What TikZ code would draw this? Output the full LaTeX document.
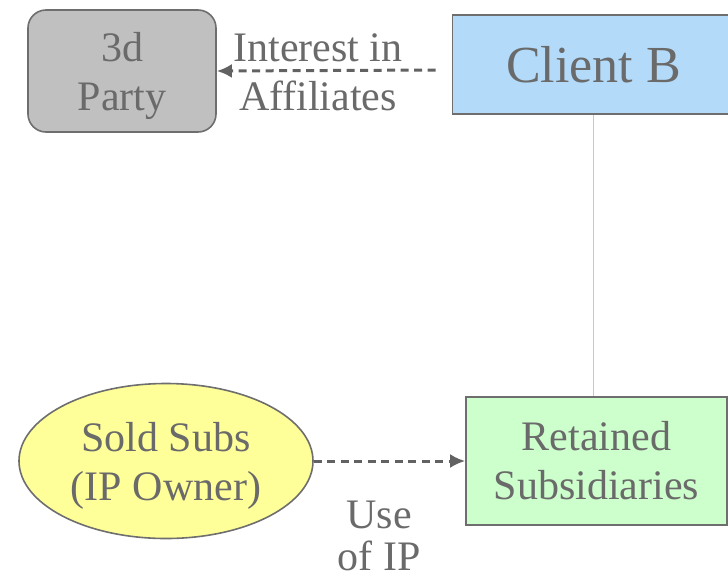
\documentclass[tikz,border=0pt]{standalone}
\usepackage{fontspec}
\setmainfont{Liberation Serif}
\usepackage{tikz}
\usetikzlibrary{positioning, arrows.meta, shapes.geometric}

\definecolor{txtgray}{HTML}{6A6A6A}
\definecolor{linegray}{HTML}{6E6E6E}
\definecolor{arrowgray}{HTML}{626262}
\definecolor{partyfill}{HTML}{C0C0C0}
\definecolor{clientfill}{HTML}{B3DAF8}
\definecolor{subsfill}{HTML}{CCFFCC}
\definecolor{ipfill}{HTML}{FFFF99}
\definecolor{ownline}{HTML}{A8D2EA}

\tikzset{
  entity/.style={draw=linegray, line width=1.6pt, text=txtgray, align=center,
    font=\fontsize{42}{49}\selectfont},
  flow/.style={-{Latex[length=15pt,width=14pt]}, draw=arrowgray, line width=3pt,
    dash pattern=on 8pt off 5.5pt},
  flowlabel/.style={text=txtgray, align=center, font=\fontsize{42}{49}\selectfont}
}

\begin{document}
\begin{tikzpicture}[x=1pt, y=1pt, node distance=2cm, on grid, auto]
    \useasboundingbox (0,0) rectangle (728,-579);
    \node[entity, fill=clientfill, minimum width=282pt, minimum height=99pt,
      font=\fontsize{52}{60}\selectfont] (client) at (593.5,-64.5) {Client B};
    \node[entity, fill=partyfill, rounded corners=18pt, minimum width=188pt,
      minimum height=122pt, text depth=0pt] (party) [below left=6.5pt and 471.5pt of client] {3d\\Party};
    \node[entity, fill=subsfill, minimum width=261pt, minimum height=128pt]
      (retained) [below right=396.5pt and 3pt of client] {Retained\\Subsidiaries};
    \node[entity, fill=ipfill, ellipse, minimum width=294pt, minimum height=155pt,
      inner sep=0pt, text depth=0pt] (sold) [left=430.5pt of retained] {Sold Subs\\(IP Owner)};

    \coordinate (tapstart) at ([xshift=-16pt, yshift=-5.5pt]client.west);
    \node[flowlabel] (interest) at (318,-72) {Interest in\\Affiliates};
    \node[flowlabel, font=\fontsize{42}{42}\selectfont] (useip) at (379,-536) {Use\\of IP};

    \draw[ownline, line width=1pt] (client.south) -- (retained.north -| client.south);
    \path
      (tapstart) edge[flow] (party.east)
      (sold.east) edge[flow] (retained.west);
\end{tikzpicture}
\end{document}
